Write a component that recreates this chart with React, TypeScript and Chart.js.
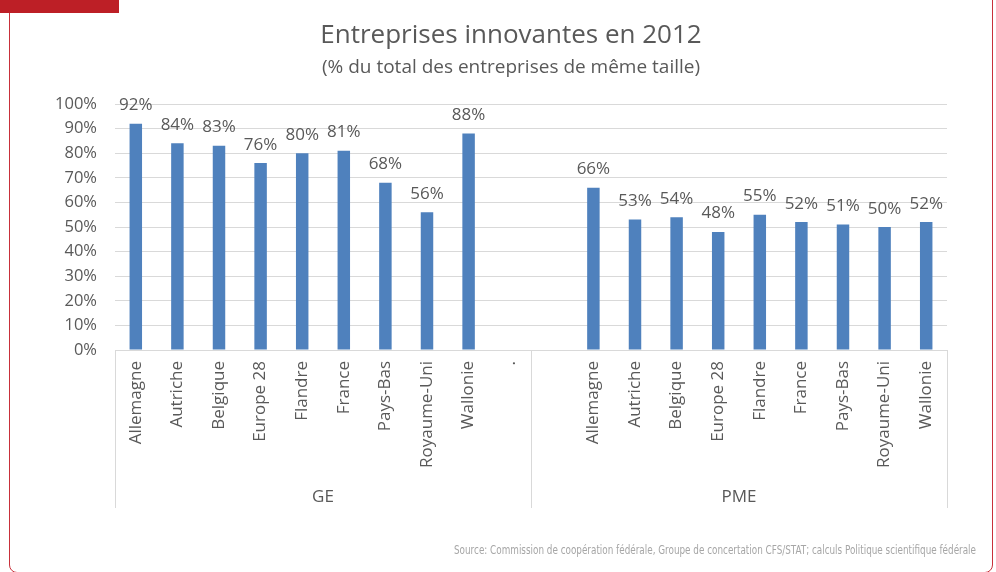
import React, { useEffect, useRef } from "react";
import { Chart, registerables } from "chart.js";

Chart.register(...registerables);

// Categories, grouped by company size
const geCountries = ["Allemagne", "Autriche", "Belgique", "Europe 28", "Flandre", "France", "Pays-Bas", "Royaume-Uni", "Wallonie"];
const pmeCountries = ["Allemagne", "Autriche", "Belgique", "Europe 28", "Flandre", "France", "Pays-Bas", "Royaume-Uni", "Wallonie"];

// Share of innovative companies (%)
const geValues = [92, 84, 83, 76, 80, 81, 68, 56, 88];
const pmeValues = [66, 53, 54, 48, 55, 52, 51, 50, 52];

// Spacer categories between the two groups
const geTrailing = ["."];
const pmeLeading = [""];

const groupNames = ["GE", "PME"];
const groupSizes = [geCountries.length + geTrailing.length, pmeLeading.length + pmeCountries.length];

const yTicks = [0, 10, 20, 30, 40, 50, 60, 70, 80, 90, 100];

const titleText = "Entreprises innovantes en 2012";
const subtitleText = "(% du total des entreprises de même taille)";
const sourceText = "Source: Commission de coopération fédérale, Groupe de concertation CFS/STAT; calculs Politique scientifique fédérale";

const TEXT = "#595959";
const GRID = "#d9d9d9";
const BAR = "#4f81bd";
const FONT = '"Open Sans", "DejaVu Sans", sans-serif';

const labels = [...geCountries, ...geTrailing, ...pmeLeading, ...pmeCountries];
const values: (number | null)[] = [
  ...geValues,
  ...geTrailing.map(() => null),
  ...pmeLeading.map(() => null),
  ...pmeValues,
];

const decorPlugin = {
  id: "decor",
  afterDatasetsDraw(chart: any) {
    const { ctx } = chart;
    const meta = chart.getDatasetMeta(0);
    ctx.save();
    ctx.fillStyle = TEXT;
    ctx.font = `17px ${FONT}`;
    ctx.textAlign = "center";
    ctx.textBaseline = "alphabetic";
    meta.data.forEach((bar: any, i: number) => {
      const v = values[i];
      if (v == null) return;
      ctx.fillText(`${Math.round(v)}%`, bar.x, bar.y - 13.5);
    });
    ctx.restore();
  },
  afterDraw(chart: any) {
    const { ctx, chartArea, scales } = chart;
    const x = scales.x;
    ctx.save();

    // Title and subtitle
    ctx.fillStyle = TEXT;
    ctx.textAlign = "center";
    ctx.textBaseline = "alphabetic";
    ctx.font = `26px ${FONT}`;
    ctx.fillText(titleText, 511, 43);
    ctx.font = `19px ${FONT}`;
    ctx.fillText(subtitleText, 511, 73);

    // Group dividers and group names under the category labels
    const bounds: number[] = [];
    let idx = 0;
    bounds.push(x.getPixelForValue(-0.5));
    groupSizes.forEach((size) => {
      idx += size;
      bounds.push(x.getPixelForValue(idx - 0.5));
    });
    ctx.strokeStyle = GRID;
    ctx.lineWidth = 1;
    bounds.forEach((b) => {
      const px = Math.round(b) + 0.5;
      ctx.beginPath();
      ctx.moveTo(px, chartArea.bottom);
      ctx.lineTo(px, 508);
      ctx.stroke();
    });
    ctx.fillStyle = TEXT;
    ctx.font = `17px ${FONT}`;
    groupNames.forEach((name, i) => {
      ctx.fillText(name, (bounds[i] + bounds[i + 1]) / 2, 502);
    });

    // Source line, condensed and right-aligned
    ctx.font = `13px "Liberation Sans Narrow", "DejaVu Sans Condensed", sans-serif`;
    ctx.fillStyle = "#a6a6a6";
    const w = ctx.measureText(sourceText).width;
    const targetW = 522;
    const sx = targetW / w;
    ctx.translate(976 - targetW, 554);
    ctx.scale(sx, 1);
    ctx.textAlign = "left";
    ctx.fillText(sourceText, 0, 0);

    ctx.restore();
  },
};

export default function App() {
  const canvasRef = useRef<HTMLCanvasElement | null>(null);

  useEffect(() => {
    const canvas = canvasRef.current;
    if (!canvas) return;
    const chart = new Chart(canvas, {
      type: "bar",
      data: {
        labels,
        datasets: [
          {
            data: values,
            backgroundColor: BAR,
            borderWidth: 0,
            barPercentage: 0.3,
            categoryPercentage: 1,
          },
        ],
      },
      options: {
        animation: false,
        responsive: false,
        maintainAspectRatio: false,
        layout: { padding: { top: 104, right: 49, bottom: 0, left: 0 } },
        plugins: {
          legend: { display: false },
          title: { display: false },
          tooltip: { enabled: false },
        },
        scales: {
          x: {
            type: "category",
            offset: true,
            grid: { display: false, drawTicks: false },
            border: { display: true, color: GRID, width: 1 },
            ticks: {
              autoSkip: false,
              minRotation: 90,
              maxRotation: 90,
              padding: 11,
              color: TEXT,
              font: { family: FONT, size: 17 },
            },
            afterFit: (scale: any) => {
              scale.height = 222;
            },
          },
          y: {
            min: 0,
            max: 100,
            afterBuildTicks: (scale: any) => {
              scale.ticks = yTicks.map((v) => ({ value: v }));
            },
            grid: { color: GRID, drawTicks: false },
            border: { display: false },
            ticks: {
              padding: 18,
              color: TEXT,
              font: { family: FONT, size: 16.5 },
              callback: (v: any) => `${v}%`,
            },
            afterFit: (scale: any) => {
              scale.width = 115;
            },
          },
        },
      },
      plugins: [decorPlugin],
    });
    return () => chart.destroy();
  }, []);

  return (
    <div style={{ position: "absolute", left: 0, top: 0, width: 996, height: 572, overflow: "hidden", background: "#fff" }}>
      <div
        style={{
          position: "absolute",
          left: 9,
          top: -20,
          width: 984,
          height: 593,
          boxSizing: "border-box",
          border: "1.5px solid #c8303a",
          borderRadius: 8,
        }}
      />
      <div style={{ position: "absolute", left: 0, top: 0, width: 119, height: 13, background: "#bd1f26" }} />
      <canvas ref={canvasRef} width={996} height={572} style={{ position: "absolute", left: 0, top: 0 }} />
    </div>
  );
}
